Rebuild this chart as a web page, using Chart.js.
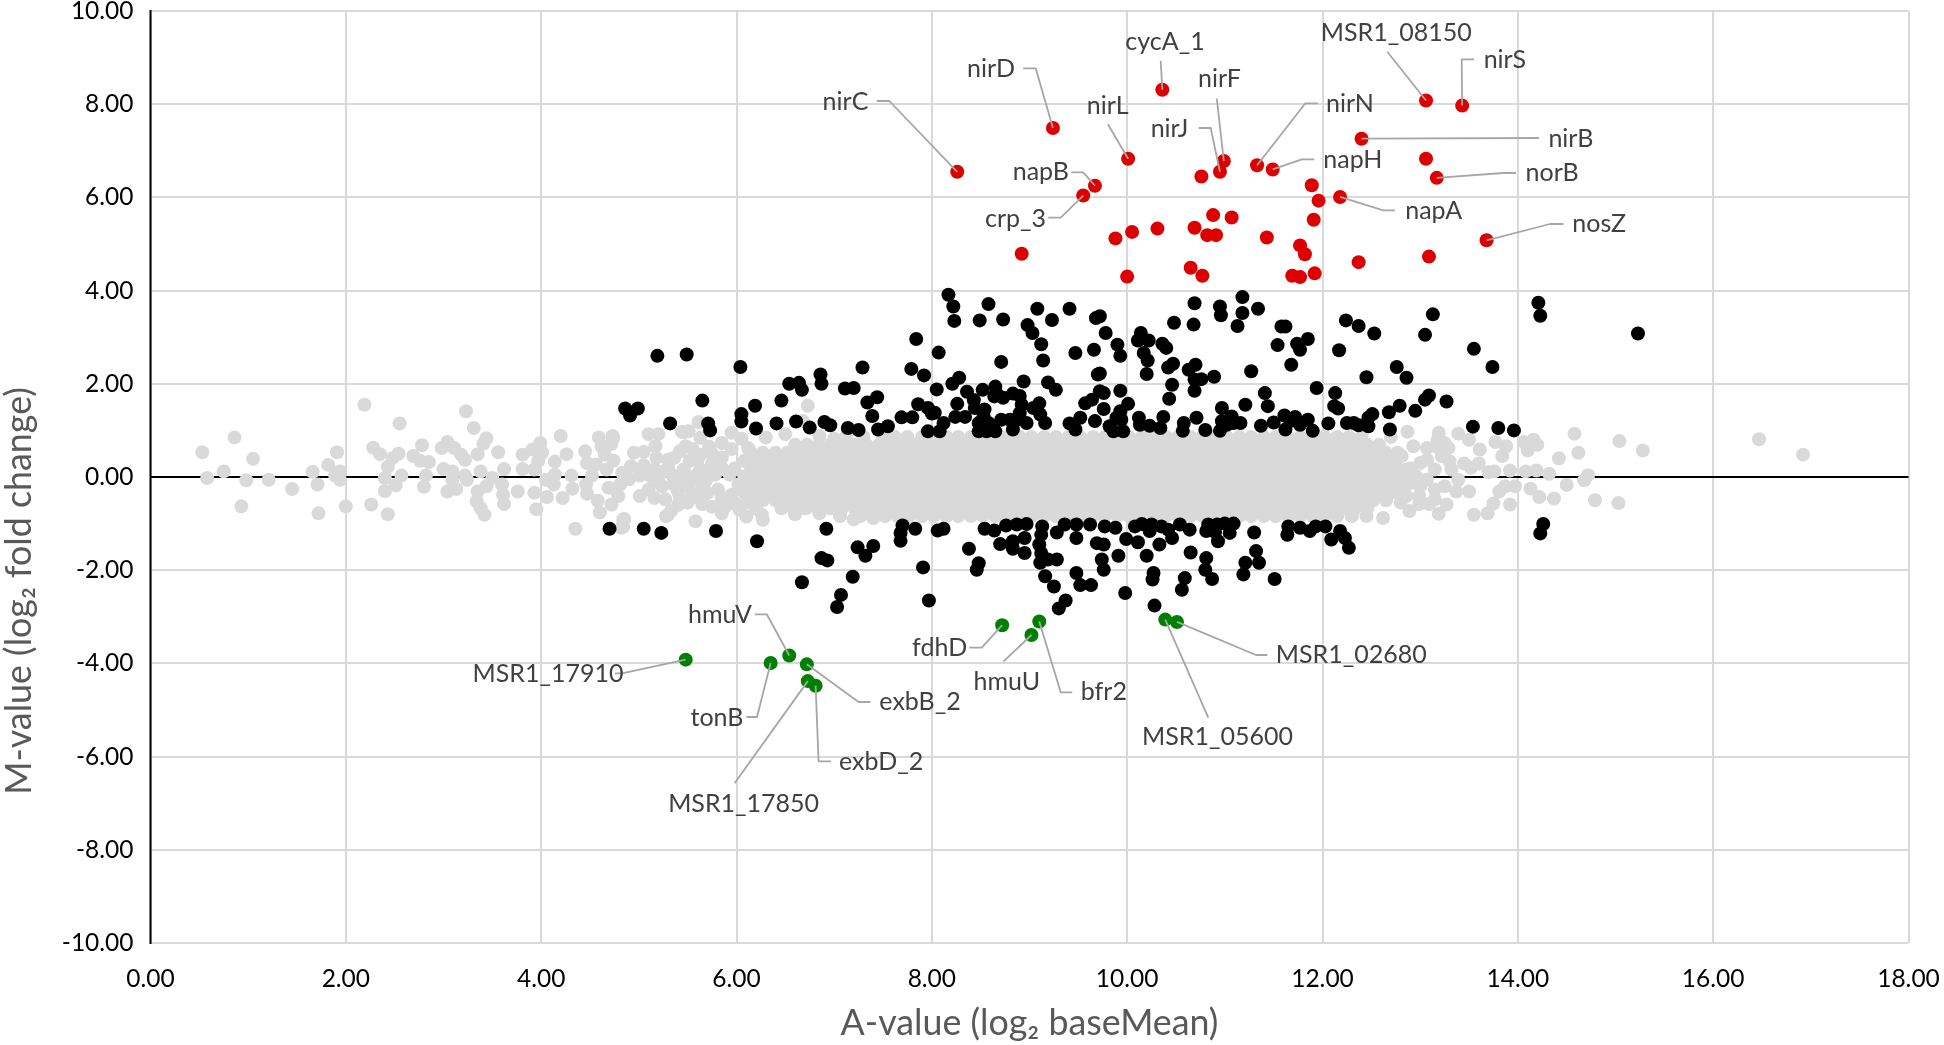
<!doctype html>
<html><head><meta charset="utf-8">
<style>html,body{margin:0;padding:0;background:#fff}canvas{display:block}</style>
<script src="https://cdn.jsdelivr.net/npm/chart.js@4"></script>
</head><body>
<canvas id="c" width="1944" height="1045"></canvas>
<script>
const xTicks = [0,2,4,6,8,10,12,14,16,18];
const yTicks = [-10,-8,-6,-4,-2,0,2,4,6,8,10];
const xAxisTitle = "A-value (log\u2082 baseMean)";
const yAxisTitle = "M-value (log\u2082 fold change)";

const redGenes = ["nirC","nirD","cycA_1","nirL","napB","crp_3","nirF","nirJ","nirN","napH","napA","MSR1_08150","nirS","nirB","norB","nosZ"];
const redPoints = [[8.26,6.55],[9.24,7.49],[10.36,8.31],[10.01,6.83],[9.67,6.25],[9.55,6.04],[10.99,6.78],[10.95,6.55],[11.33,6.69],[11.49,6.60],[12.18,6.01],[13.06,8.08],[13.43,7.97],[12.40,7.26],[13.17,6.42],[13.68,5.08],
[10.76,6.45],[11.89,6.26],[11.96,5.93],[10.88,5.62],[11.07,5.57],[11.91,5.52],[10.31,5.33],[10.05,5.26],[9.88,5.12],[10.69,5.35],[10.82,5.19],[10.91,5.19],[11.43,5.14],[11.77,4.97],[11.82,4.78],[8.92,4.79],[10.65,4.49],[10.77,4.32],[10.00,4.30],[11.69,4.32],[11.77,4.29],[11.92,4.37],[12.37,4.61],[13.06,6.83],[13.09,4.73]];

const greenGenes = ["MSR1_17910","tonB","hmuV","exbB_2","MSR1_17850","exbD_2","fdhD","hmuU","bfr2","MSR1_05600","MSR1_02680"];
const greenPoints = [[5.48,-3.92],[6.35,-3.99],[6.54,-3.83],[6.72,-4.02],[6.73,-4.38],[6.81,-4.48],[8.72,-3.18],[9.02,-3.39],[9.10,-3.10],[10.39,-3.06],[10.51,-3.11]];

const blackUpperLeft = [[5.19,2.60],[5.49,2.63],[6.04,2.36],[5.65,1.64],[4.86,1.47],[4.99,1.47],[4.91,1.32],[5.32,1.15],[5.71,1.15],[5.73,1.00],[6.05,1.35],[6.05,1.19],[6.19,1.53],[6.20,1.04],[6.46,1.64],[6.41,1.15],[6.61,1.19],[6.75,1.06],[6.54,2.00],[6.64,2.02],[6.67,1.87],[6.86,2.20],[6.87,2.00],[7.11,1.90],[7.20,1.91],[7.29,2.35],[7.44,1.71],[7.34,1.60],[7.39,1.31],[6.90,1.18],[6.96,1.11],[7.14,1.05],[7.25,1.01],[7.45,1.02],[7.55,1.09],[7.69,1.28],[7.80,1.28],[7.84,2.96],[8.07,2.67],[7.79,2.32],[7.92,2.18],[8.05,1.88],[8.17,3.91],[8.22,3.66],[8.23,3.35],[8.49,3.36],[8.58,3.71],[8.73,3.38],[9.08,3.61],[9.23,3.37],[9.41,3.61],[9.68,3.41],[8.98,3.26],[9.03,3.09],[9.12,2.85],[9.14,2.50],[8.71,2.47],[9.47,2.66],[9.66,2.73],[8.94,2.05],[9.19,2.03],[9.27,1.87],[8.28,2.13],[8.21,2.00],[8.36,1.83],[8.52,1.87],[8.65,1.94],[8.64,1.73],[8.73,1.70],[8.83,1.79],[8.90,1.74],[8.43,1.65],[8.26,1.57],[7.86,1.56],[7.96,1.48],[8.03,1.38],[8.00,1.36],[8.12,1.16],[8.24,1.29],[8.34,1.29],[7.96,0.98],[8.08,0.98],[8.54,1.45],[8.48,1.16],[8.58,1.16],[8.48,0.98],[8.56,0.98],[8.65,0.98],[8.71,1.23],[8.83,1.02],[8.87,1.23],[8.92,1.55],[8.97,1.16],[9.04,1.48],[9.10,1.58],[9.11,1.34],[9.16,1.16],[9.57,1.58],[9.64,1.66],[9.72,1.84],[9.70,2.20],[9.41,1.15],[9.52,1.27],[9.47,1.02],[9.67,1.20],[8.53,1.30],[8.61,1.09],[8.44,1.48],[8.90,1.37],[8.80,1.23],[8.66,1.80]];
const blackUpperRight = [[10.69,3.73],[10.95,3.66],[10.96,3.47],[11.18,3.86],[11.18,3.52],[11.34,3.61],[11.13,3.24],[10.48,3.31],[10.68,3.27],[9.72,3.45],[9.78,3.09],[9.90,2.84],[9.93,2.60],[10.14,3.09],[10.11,2.93],[10.22,2.93],[10.36,2.86],[10.40,2.77],[10.17,2.66],[10.21,2.50],[10.20,2.21],[10.42,2.35],[10.47,2.43],[10.70,2.41],[10.63,2.30],[10.69,2.09],[10.76,2.10],[10.89,2.15],[10.46,1.98],[10.69,1.85],[10.43,1.68],[11.27,2.27],[11.58,3.23],[11.62,3.23],[11.54,2.83],[11.74,2.86],[11.77,2.73],[11.85,2.96],[11.68,2.41],[11.94,1.91],[11.41,1.80],[11.21,1.55],[11.44,1.52],[10.97,1.48],[10.71,1.27],[10.58,1.16],[10.57,0.99],[10.80,1.01],[10.12,1.27],[10.13,1.12],[10.23,1.10],[10.34,1.05],[10.37,1.29],[9.93,1.85],[9.76,1.80],[9.72,2.22],[9.76,1.46],[10.01,1.57],[9.93,1.41],[9.89,1.27],[9.82,1.09],[9.86,0.98],[9.96,0.98],[9.94,1.23],[10.95,0.99],[10.97,1.20],[11.07,1.30],[11.09,1.16],[11.16,1.16],[11.02,1.12],[11.37,1.10],[11.50,1.17],[11.61,1.32],[11.72,1.29],[11.85,1.23],[11.62,1.02],[11.77,1.12],[11.90,0.99],[11.67,1.20],[12.06,1.15],[12.13,1.80],[12.12,1.52],[12.16,1.47],[12.24,3.36],[12.37,3.24],[12.53,3.08],[12.17,2.72],[12.45,2.14],[12.76,2.36],[12.86,2.13],[13.13,3.49],[13.05,3.05],[13.55,2.75],[13.74,2.36],[14.21,3.74],[14.23,3.46],[15.23,3.08],[12.25,1.16],[12.32,1.16],[12.37,1.11],[12.47,1.09],[12.47,1.27],[12.51,1.35],[12.69,1.02],[12.68,1.39],[12.79,1.53],[12.95,1.42],[13.05,1.66],[13.09,1.75],[13.27,1.62],[13.54,1.08],[13.80,1.05],[13.96,1.00]];
const blackLowerLeft = [[4.70,-1.11],[5.05,-1.11],[5.23,-1.20],[5.79,-1.16],[6.21,-1.38],[6.92,-1.11],[6.67,-2.26],[6.87,-1.74],[6.93,-1.79],[7.19,-2.14],[7.07,-2.53],[7.03,-2.79],[7.24,-1.51],[7.40,-1.48],[7.32,-1.69],[7.70,-1.04],[7.68,-1.20],[7.68,-1.37],[7.83,-1.11],[8.06,-1.15],[8.12,-1.11],[7.91,-1.94],[7.97,-2.65],[8.38,-1.54],[8.48,-1.85],[8.46,-1.99],[8.54,-1.11],[8.64,-1.15],[8.76,-1.04],[8.87,-1.02],[8.97,-1.01],[8.70,-1.44],[8.83,-1.38],[8.83,-1.54],[8.95,-1.31],[8.95,-1.63],[9.13,-1.06],[9.12,-1.24],[9.10,-1.45],[9.12,-1.63],[9.11,-1.84],[9.19,-1.77],[9.28,-1.77],[9.16,-2.13],[9.25,-2.35],[9.37,-2.65],[9.30,-2.82],[9.48,-2.06],[9.52,-2.32],[9.63,-2.32],[9.28,-1.19],[9.36,-1.02],[9.48,-1.02],[9.62,-1.02],[9.48,-1.31],[9.69,-1.42]];
const blackLowerRight = [[9.77,-1.06],[9.88,-1.09],[9.76,-1.45],[9.91,-1.69],[9.74,-1.77],[9.76,-1.99],[9.98,-2.49],[10.28,-2.76],[9.99,-1.33],[10.11,-1.40],[10.08,-1.06],[10.15,-1.01],[10.25,-1.02],[10.23,-1.16],[10.35,-1.06],[10.42,-1.13],[10.46,-1.31],[10.33,-1.45],[10.54,-1.02],[10.64,-1.13],[10.20,-1.69],[10.65,-1.62],[10.27,-2.06],[10.26,-2.20],[10.59,-2.17],[10.56,-2.42],[10.81,-1.74],[10.80,-1.99],[10.87,-2.19],[10.83,-1.02],[10.81,-1.16],[10.92,-1.02],[10.93,-1.38],[11.05,-1.20],[11.09,-1.00],[11.00,-1.00],[10.90,-1.18],[11.30,-1.19],[11.32,-1.59],[11.21,-1.84],[11.35,-1.84],[11.19,-2.09],[11.51,-2.19],[11.65,-1.06],[11.64,-1.24],[11.77,-1.09],[11.87,-1.16],[11.93,-1.06],[12.03,-1.06],[12.18,-1.16],[12.23,-1.31],[12.09,-1.34],[12.27,-1.52],[14.26,-1.01],[14.23,-1.21]];

const graySparse = [[0.53,0.53],[0.86,0.85],[1.05,0.39],[0.58,-0.02],[0.75,0.12],[0.98,-0.07],[1.21,-0.06],[1.45,-0.26],[0.93,-0.63],[1.66,0.11],[1.82,0.26],[1.91,0.53],[1.71,-0.16],[1.89,0.03],[1.94,0.12],[1.94,-0.06],[1.72,-0.78],[2.00,-0.63],[2.19,1.55],[2.55,1.15],[2.28,0.63],[2.35,0.49],[2.48,0.41],[2.54,0.50],[2.43,0.22],[2.57,0.03],[2.40,-0.02],[2.51,-0.18],[2.40,-0.30],[2.26,-0.59],[2.43,-0.80],[2.69,0.45],[2.78,0.68],[2.76,0.35],[2.85,0.32],[2.82,0.03],[2.80,-0.21],[2.98,0.62],[3.04,0.75],[3.11,0.62],[3.18,0.48],[3.22,0.37],[3.23,1.41],[3.31,1.05],[3.44,0.83],[3.41,0.72],[3.35,0.49],[3.56,0.53],[3.00,0.17],[3.09,0.12],[3.22,0.03],[3.09,-0.06],[3.13,-0.26],[3.04,-0.31],[3.24,-0.06],[3.38,0.12],[3.50,-0.02],[3.62,0.17],[3.44,-0.20],[3.35,-0.31],[3.34,-0.52],[3.38,-0.67],[3.42,-0.81],[3.61,-0.38],[3.62,-0.58],[3.60,-0.16],[3.76,-0.31],[3.81,0.48],[3.91,0.59],[3.99,0.73],[4.01,0.52],[3.81,0.17],[3.97,0.34],[3.93,0.16],[4.14,0.33],[4.20,0.88],[4.26,0.49],[4.31,0.03],[4.05,-0.06],[4.13,-0.16],[4.14,0.05],[3.93,-0.34],[4.06,-0.43],[4.22,-0.45],[4.32,-0.25],[3.95,-0.69],[4.35,-1.11],[4.45,0.55],[4.47,0.30],[4.56,0.27],[4.59,0.85],[4.74,0.84],[4.62,0.66],[4.72,0.71],[4.65,0.48],[4.74,0.35],[4.52,0.03],[4.46,-0.16],[4.47,-0.36],[4.67,0.16],[4.83,0.09],[4.69,-0.23],[4.81,-0.16],[4.79,-0.41],[4.72,-0.59],[4.58,-0.51],[4.60,-0.76],[4.85,-0.90],[4.84,-1.07],[4.95,0.52],[5.05,0.54],[4.92,0.23],[5.01,0.03],[5.01,-0.41],[5.16,-0.45],[5.10,0.92],[5.20,0.92],[5.17,0.66],[5.18,0.41],[5.16,0.16],[5.30,0.37],[5.36,0.41],[5.27,-0.48],[5.40,-0.31],[5.10,-0.27],[5.24,-0.20],[5.34,0.05],[5.33,-0.73],[5.28,-0.84],[5.44,0.97],[5.51,0.98],[5.61,1.18],[5.48,0.66],[5.63,0.84],[5.63,0.48],[5.95,0.95],[5.85,0.73],[5.46,0.16],[5.54,-0.06],[5.63,0.16],[5.75,0.30],[5.65,-0.20],[5.62,-0.47],[5.75,-0.64],[5.89,-0.63],[6.03,-0.70],[5.81,-0.27],[5.93,0.05],[5.95,-0.38],[5.52,0.35],[5.70,-0.02],[6.73,1.53],[6.68,1.20],[4.73,0.88],[5.46,0.96],[4.82,-1.09],[4.84,-0.91],[5.30,-0.81],[6.26,-0.81],[6.27,-0.92],[7.20,-0.91],[7.06,-0.84],[6.05,0.82],[6.50,0.92],[6.30,0.85],[6.85,0.88],[7.00,0.82],[6.60,-0.80],[6.85,-0.78],[7.40,-0.88],[5.50,-0.55],[5.40,-0.60],[5.85,-0.78],[6.10,-0.85],[5.58,-0.95],
[5.25,0.12],[5.42,-0.05],[5.58,0.02],[5.35,-0.15],[5.50,-0.20],[5.72,0.15],[5.60,0.35],[5.75,0.50],[5.85,0.42],[5.70,-0.35],[5.55,-0.35],[5.85,-0.45],[5.30,0.20],[5.12,0.02],[5.20,-0.10],[4.90,-0.05],[5.05,0.25],[5.42,0.55],[5.55,0.60],[5.72,0.65],[5.95,0.60],[6.12,0.62],[5.42,-0.45],[5.65,-0.58],[6.10,-0.55],[6.20,-0.68],[5.98,-0.55],[5.78,0.05],[5.68,-0.10],[5.85,0.20]];
const grayRight = [[16.47,0.81],[16.92,0.48],[15.04,0.77],[15.28,0.57],[15.03,-0.56],[14.79,-0.50],[14.58,0.93],[14.62,0.52],[14.42,0.40],[14.72,0.04],[14.68,-0.07],[14.50,-0.17],[14.32,0.07],[14.37,-0.46],[14.22,-0.43],[14.13,-0.25],[14.19,0.14],[14.16,0.80],[14.20,0.69],[14.06,0.75],[14.10,0.57],[14.08,0.12],[13.92,0.14],[13.97,-0.20],[13.92,-0.59],[13.87,-0.20],[13.81,-0.31],[13.75,-0.57],[13.69,-0.78],[13.55,-0.81],[13.88,0.66],[13.84,0.45],[13.77,0.75],[13.70,0.10],[13.76,0.12],[13.61,0.59],[13.60,0.29],[13.50,0.80],[13.39,0.93],[13.50,-0.31],[13.45,0.29],[13.52,0.20],[13.32,0.16],[13.37,-0.31],[13.39,-0.06],[13.27,-0.59],[13.19,-0.79],[13.09,-0.58],[12.99,-0.58],[12.89,-0.73],[12.86,-0.41],[13.19,0.95],[12.87,0.97],[12.93,0.66],[13.07,0.62],[13.25,0.73],[13.29,0.62],[13.30,0.34],[13.22,0.45],[13.15,0.16],[13.00,0.30],[12.86,0.16],[13.15,-0.27],[13.00,-0.20],[12.90,-0.13],[13.25,-0.20],[13.16,0.66],[13.07,0.37],[13.07,-0.06],[12.81,0.45],[12.81,-0.27],[13.15,-0.48],[12.99,-0.41],[13.18,0.80],[12.70,0.86],[12.80,-0.55],[12.62,-0.88]];

const grayBandY = [0.86,0.69,0.52,0.35,0.18,0.01,-0.16,-0.33,-0.50,-0.67,-0.84];
const grayBandX = [
[7.12,7.30,7.50,7.62,7.75,7.90,8.02,8.15,8.27,8.40,8.52,8.65,8.77,8.90,9.02,9.15,9.27,9.40,9.52,9.65,9.77,9.90,10.02,10.15,10.27,10.40,10.52,10.65,10.77,10.90,11.02,11.15,11.27,11.40,11.52,11.65,11.77,11.90,12.02,12.15,12.27,12.40],
[6.60,6.72,6.84,6.96,7.08,7.21,7.33,7.46,7.58,7.71,7.83,7.96,8.08,8.21,8.33,8.46,8.58,8.71,8.83,8.96,9.08,9.21,9.33,9.46,9.58,9.71,9.83,9.96,10.08,10.21,10.33,10.46,10.58,10.71,10.83,10.96,11.08,11.21,11.33,11.46,11.58,11.71,11.83,11.96,12.08,12.21,12.33,12.46,12.58],
[6.15,6.27,6.40,6.52,6.65,6.77,6.90,7.02,7.15,7.27,7.40,7.52,7.65,7.77,7.90,8.02,8.15,8.27,8.40,8.52,8.65,8.77,8.90,9.02,9.15,9.27,9.40,9.52,9.65,9.77,9.90,10.02,10.15,10.27,10.40,10.52,10.65,10.77,10.90,11.02,11.15,11.27,11.40,11.52,11.65,11.77,11.90,12.02,12.15,12.27,12.40,12.52,12.65,12.77],
[6.08,6.21,6.33,6.46,6.58,6.71,6.83,6.96,7.08,7.21,7.33,7.46,7.58,7.71,7.83,7.96,8.08,8.21,8.33,8.46,8.58,8.71,8.83,8.96,9.08,9.21,9.33,9.46,9.58,9.71,9.83,9.96,10.08,10.21,10.33,10.46,10.58,10.71,10.83,10.96,11.08,11.21,11.33,11.46,11.58,11.71,11.83,11.96,12.08,12.21,12.33,12.46,12.58,12.71],
[5.98,6.15,6.27,6.40,6.52,6.65,6.77,6.90,7.02,7.15,7.27,7.40,7.52,7.65,7.77,7.90,8.02,8.15,8.27,8.40,8.52,8.65,8.77,8.90,9.02,9.15,9.27,9.40,9.52,9.65,9.77,9.90,10.02,10.15,10.27,10.40,10.52,10.65,10.77,10.90,11.02,11.15,11.27,11.40,11.52,11.65,11.77,11.90,12.02,12.15,12.27,12.40,12.52,12.65,12.77,12.90],
[6.08,6.21,6.33,6.46,6.58,6.71,6.83,6.96,7.08,7.21,7.33,7.46,7.58,7.71,7.83,7.96,8.08,8.21,8.33,8.46,8.58,8.71,8.83,8.96,9.08,9.21,9.33,9.46,9.58,9.71,9.83,9.96,10.08,10.21,10.33,10.46,10.58,10.71,10.83,10.96,11.08,11.21,11.33,11.46,11.58,11.71,11.83,11.96,12.08,12.21,12.33,12.46,12.58,12.71,12.83,12.96],
[6.02,6.15,6.27,6.40,6.52,6.65,6.77,6.90,7.02,7.15,7.27,7.40,7.52,7.65,7.77,7.90,8.02,8.15,8.27,8.40,8.52,8.65,8.77,8.90,9.02,9.15,9.27,9.40,9.52,9.65,9.77,9.90,10.02,10.15,10.27,10.40,10.52,10.65,10.77,10.90,11.02,11.15,11.27,11.40,11.52,11.65,11.77,11.90,12.02,12.15,12.27,12.40,12.52,12.65,12.77],
[6.08,6.21,6.33,6.46,6.58,6.71,6.83,6.96,7.08,7.21,7.33,7.46,7.58,7.71,7.83,7.96,8.08,8.21,8.33,8.46,8.58,8.71,8.83,8.96,9.08,9.21,9.33,9.46,9.58,9.71,9.83,9.96,10.08,10.21,10.33,10.46,10.58,10.71,10.83,10.96,11.08,11.21,11.33,11.46,11.58,11.71,11.83,11.96,12.08,12.21,12.33,12.46,12.58,12.71,12.83],
[6.15,6.27,6.40,6.52,6.65,6.77,6.90,7.02,7.15,7.27,7.40,7.52,7.65,7.77,7.90,8.02,8.15,8.27,8.40,8.52,8.65,8.77,8.90,9.02,9.15,9.27,9.40,9.52,9.65,9.77,9.90,10.02,10.15,10.27,10.40,10.52,10.65,10.77,10.90,11.02,11.15,11.27,11.40,11.52,11.65,11.77,11.90,12.02,12.15,12.27,12.40,12.52,12.65],
[6.46,6.58,6.71,6.83,6.96,7.08,7.21,7.33,7.46,7.58,7.71,7.83,7.96,8.08,8.21,8.33,8.46,8.58,8.71,8.83,8.96,9.08,9.21,9.33,9.46,9.58,9.71,9.83,9.96,10.08,10.21,10.33,10.46,10.58,10.71,10.83,10.96,11.08,11.21,11.33,11.46,11.58,11.71,11.83,11.96,12.08,12.21,12.33,12.46],
[7.27,7.52,7.65,7.77,7.90,8.02,8.15,8.27,8.40,8.52,8.65,8.77,8.90,9.02,9.15,9.27,9.40,9.52,9.65,9.77,9.90,10.02,10.15,10.27,10.40,10.52,10.65,10.77,10.90,11.02,11.15,11.27,11.40,11.52,11.65,11.77,11.90,12.02,12.15,12.30,12.45]
];

/* Call-out layout, kept apart from the values: label centre and baseline, and the bends of the leader line, in canvas pixels. */
const callouts = [
 {gene:"nirC",cx:845.5,base:110,bends:[[889.3,101],[876.8,101]]},
 {gene:"nirD",cx:991,base:76.7,bends:[[1035.7,68.3],[1023.2,68.3]]},
 {gene:"cycA_1",cx:1165,base:50,bends:[[1160.7,60.7]]},
 {gene:"nirL",cx:1107.7,base:114,bends:[[1107.9,124.3]]},
 {gene:"nirF",cx:1219.5,base:87.3,bends:[[1216.8,98.7]]},
 {gene:"nirJ",cx:1169.5,base:136.7,bends:[[1210.7,128],[1198.6,128]]},
 {gene:"napB",cx:1040.8,base:180,bends:[[1083.2,172.3],[1071.4,172.3]]},
 {gene:"crp_3",cx:1015.5,base:226.7,bends:[[1060.7,217.7],[1048.2,217.7]]},
 {gene:"nirN",cx:1350,base:111.7,bends:[[1305.4,103.3],[1317.9,103.3]]},
 {gene:"napH",cx:1352.9,base:168.3,bends:[[1301.8,159.3],[1314.3,159.3]]},
 {gene:"MSR1_08150",cx:1396.2,base:40.7,bends:[[1387.3,51.7]]},
 {gene:"nirS",cx:1504.9,base:68.3,bends:[[1461.7,59.3],[1474,59.3]]},
 {gene:"nirB",cx:1570.9,base:146.7,bends:[[1539,138]]},
 {gene:"norB",cx:1552.2,base:181,bends:[[1503.3,173],[1516,173]]},
 {gene:"napA",cx:1433.7,base:219,bends:[[1383.3,210.3],[1395,210.3]]},
 {gene:"nosZ",cx:1599.2,base:232.3,bends:[[1550,224],[1563.3,224]]},
 {gene:"MSR1_17910",cx:548,base:681.7,bends:[[622,673.3],[615,673.3]]},
 {gene:"hmuV",cx:720,base:622.7,bends:[[766.8,614.3],[755,614.3]]},
 {gene:"tonB",cx:717,base:725.7,bends:[[757,717],[746.4,717]]},
 {gene:"exbB_2",cx:920,base:710,bends:[[858.6,702],[870.4,702]]},
 {gene:"exbD_2",cx:881.1,base:770,bends:[[818.6,761.3],[831,761.3]]},
 {gene:"MSR1_17850",cx:743.6,base:811.7,bends:[[734.6,783.3]]},
 {gene:"fdhD",cx:939.6,base:656,bends:[[981.8,647.7],[969.3,647.7]]},
 {gene:"hmuU",cx:1006.8,base:690,bends:[[1003.3,661.7]]},
 {gene:"bfr2",cx:1103.8,base:700,bends:[[1060.7,692.3],[1072.3,692.3]]},
 {gene:"MSR1_05600",cx:1217.5,base:745,bends:[[1208.3,717.7]]},
 {gene:"MSR1_02680",cx:1351.3,base:662.7,bends:[[1256,655],[1267.3,655]]}
];

const FONT = 'Lato, "Open Sans", sans-serif';
const toXY = p => ({x:p[0], y:p[1]});
const grayBand = [];
grayBandY.forEach((y,r) => grayBandX[r].forEach(x => grayBand.push([x,y])));
const grayPoints = graySparse.concat(grayRight, grayBand);
const blackPoints = blackUpperLeft.concat(blackUpperRight, blackLowerLeft, blackLowerRight);

const findGene = g => {
  let i = redGenes.indexOf(g);
  if (i >= 0) return redPoints[i];
  return greenPoints[greenGenes.indexOf(g)];
};

const overlay = {
  id:'overlay',
  beforeDatasetsDraw(chart){
    const {ctx,scales:{x,y},chartArea:a} = chart;
    ctx.save();
    ctx.strokeStyle='#000'; ctx.lineWidth=2;
    ctx.beginPath();
    ctx.moveTo(a.left,y.getPixelForValue(0)); ctx.lineTo(a.right,y.getPixelForValue(0));
    ctx.moveTo(x.getPixelForValue(0),a.top-1); ctx.lineTo(x.getPixelForValue(0),a.bottom+1);
    ctx.stroke();
    ctx.restore();
  },
  afterDatasetsDraw(chart){
    const {ctx,scales:{x,y}} = chart;
    ctx.save();
    ctx.lineJoin='round';
    callouts.forEach(c=>{
      const p = findGene(c.gene);
      ctx.strokeStyle='#a6a6a6'; ctx.lineWidth=1.8;
      ctx.beginPath();
      ctx.moveTo(x.getPixelForValue(p[0]),y.getPixelForValue(p[1]));
      c.bends.forEach(b=>ctx.lineTo(b[0],b[1]));
      ctx.stroke();
    });
    ctx.fillStyle='#404040';
    ctx.font='25px '+FONT;
    ctx.textAlign='center'; ctx.textBaseline='alphabetic';
    callouts.forEach(c=>ctx.fillText(c.gene,c.cx,c.base));
    ctx.translate(31,591);
    ctx.rotate(-Math.PI/2);
    ctx.fillStyle='#595959';
    ctx.font='35.8px '+FONT;
    ctx.fillText(yAxisTitle,0,0);
    ctx.restore();
  }
};

const ds = (label,pts,color,order) => ({label,data:pts.map(toXY),backgroundColor:color,borderWidth:0,pointRadius:7,pointHoverRadius:7,order});
const noPad = s => {s.paddingTop=0;s.paddingBottom=0;s.paddingLeft=0;s.paddingRight=0;};

new Chart(document.getElementById('c'),{
  type:'scatter',
  data:{datasets:[
    ds('Not significant',grayPoints,'#d9d9d9',4),
    ds('Significant',blackPoints,'#000000',3),
    ds('Down, labelled',greenPoints,'#008000',2),
    ds('Up, labelled',redPoints,'#dd0000',1)
  ]},
  options:{
    responsive:false,animation:false,devicePixelRatio:1,
    layout:{padding:{top:11,right:35.5,left:0,bottom:0}},
    events:[],
    plugins:{legend:{display:false},tooltip:{enabled:false},title:{display:false}},
    scales:{
      x:{type:'linear',min:0,max:18,
        afterBuildTicks(s){s.ticks=xTicks.map(v=>({value:v}));},
        afterFit(s){s.height=102;noPad(s);},
        grid:{color:'#d9d9d9',lineWidth:2,drawTicks:false},
        border:{display:false},
        ticks:{autoSkip:false,maxRotation:0,minRotation:0,padding:21,color:'#000',font:{family:FONT,size:24.5},callback:v=>v.toFixed(2)},
        title:{display:true,text:xAxisTitle,color:'#595959',font:{family:FONT,size:35.8},padding:{top:7,bottom:0}}
      },
      y:{type:'linear',min:-10,max:10,
        afterBuildTicks(s){s.ticks=yTicks.map(v=>({value:v}));},
        afterFit(s){s.width=150.5;noPad(s);},
        grid:{color:'#d9d9d9',lineWidth:2,drawTicks:false},
        border:{display:false},
        ticks:{autoSkip:false,padding:17,color:'#000',font:{family:FONT,size:24.5},callback:v=>v.toFixed(2)}
      }
    }
  },
  plugins:[overlay]
});
</script>
</body></html>
